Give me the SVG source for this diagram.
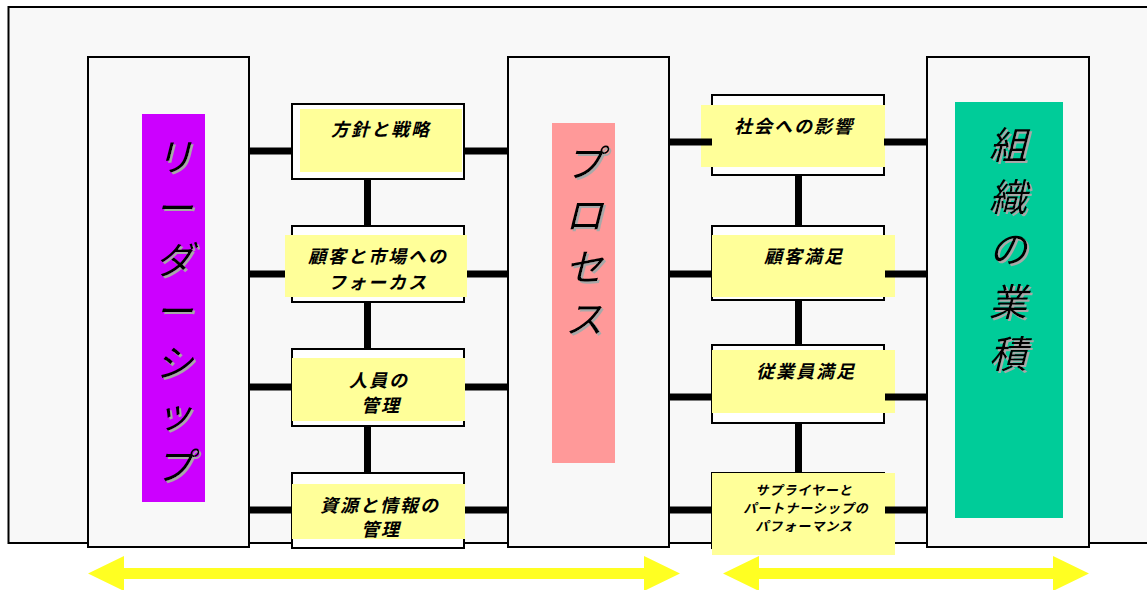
<svg xmlns="http://www.w3.org/2000/svg" width="1147" height="590" viewBox="0 0 1147 590">
<defs>
<style>
.col{fill:#f8f8f8;stroke:#000;stroke-width:2}
.ob{fill:#fff;stroke:#000;stroke-width:2}
.yl{fill:#ffff99}
.lbl{font-family:"Noto Sans CJK JP","Noto Sans",sans-serif;font-style:italic;font-weight:bold;font-size:18px;letter-spacing:2px;fill:#000;text-anchor:middle;dominant-baseline:central}
.sm{font-size:13px;letter-spacing:1px}
.big{font-family:"Noto Sans CJK JP","Noto Sans",sans-serif;font-style:italic;font-size:38px;fill:#000;text-anchor:middle;dominant-baseline:central;filter:url(#sh)}
.cn{stroke:#000;stroke-width:7;fill:none}
.arr{fill:#ffff22}
</style>
<filter id="sh" x="-20%" y="-20%" width="140%" height="140%">
<feDropShadow dx="2" dy="2" stdDeviation="0.4" flood-color="#a8a8a8"/>
</filter>
</defs>
<rect x="0" y="0" width="1147" height="590" fill="#fff"/>
<rect x="8.5" y="7" width="1150" height="536" fill="#f8f8f8" stroke="#000" stroke-width="2"/>

<g id="connectors">
<line class="cn" x1="249" y1="151" x2="300" y2="151"/>
<line class="cn" x1="462" y1="151" x2="508" y2="151"/>
<line class="cn" x1="249" y1="274" x2="286" y2="274"/>
<line class="cn" x1="466" y1="274" x2="508" y2="274"/>
<line class="cn" x1="249" y1="387" x2="292" y2="387"/>
<line class="cn" x1="464" y1="387" x2="508" y2="387"/>
<line class="cn" x1="249" y1="510" x2="292" y2="510"/>
<line class="cn" x1="464" y1="510" x2="508" y2="510"/>
<line class="cn" x1="367.5" y1="179" x2="367.5" y2="226"/>
<line class="cn" x1="367.5" y1="302" x2="367.5" y2="349"/>
<line class="cn" x1="367.5" y1="426" x2="367.5" y2="473"/>
<line class="cn" x1="798.5" y1="175" x2="798.5" y2="226"/>
<line class="cn" x1="798.5" y1="300" x2="798.5" y2="345"/>
<line class="cn" x1="798.5" y1="423" x2="798.5" y2="473"/>
</g>

<g id="leadership">
<rect class="col" x="88" y="57" width="161" height="490"/>
<rect x="142" y="114" width="63" height="388" fill="#cc00ff"/>
<text class="big"><tspan x="174" y="153.5">リ</tspan><tspan x="174" y="205">ー</tspan><tspan x="174" y="256.5">ダ</tspan><tspan x="174" y="308">ー</tspan><tspan x="174" y="359.5">シ</tspan><tspan x="174" y="411">ッ</tspan><tspan x="174" y="462.5">プ</tspan></text>
</g>

<g id="process">
<rect class="col" x="508" y="57" width="161" height="490"/>
<rect x="552" y="123" width="63" height="340" fill="#ff9999"/>
<text class="big"><tspan x="584" y="160">プ</tspan><tspan x="584" y="212">ロ</tspan><tspan x="584" y="264">セ</tspan><tspan x="584" y="316">ス</tspan></text>
</g>

<g id="results">
<rect class="col" x="927" y="57" width="162" height="490"/>
<rect x="955" y="102" width="108" height="416" fill="#00cc99"/>
<text class="big"><tspan x="1008" y="142">組</tspan><tspan x="1008" y="194">織</tspan><tspan x="1008" y="246">の</tspan><tspan x="1008" y="299">業</tspan><tspan x="1008" y="351">積</tspan></text>
</g>

<g id="policy">
<rect class="ob" x="292" y="104" width="172" height="75"/>
<rect class="yl" x="300" y="109" width="162" height="63"/>
<text class="lbl" x="381" y="128">方針と戦略</text>
</g>

<g id="customer-focus">
<rect class="ob" x="292" y="226" width="172" height="76"/>
<rect class="yl" x="285" y="235" width="182" height="62"/>
<text class="lbl"><tspan x="378" y="255">顧客と市場への</tspan><tspan x="378" y="280.5">フォーカス</tspan></text>
</g>

<g id="people">
<rect class="ob" x="292" y="349" width="172" height="77"/>
<rect class="yl" x="292" y="358" width="173" height="63"/>
<text class="lbl"><tspan x="379" y="378.5">人員の</tspan><tspan x="381" y="404">管理</tspan></text>
</g>

<g id="resources">
<rect class="ob" x="292" y="473" width="172" height="75"/>
<rect class="yl" x="292" y="484" width="173" height="55"/>
<text class="lbl"><tspan x="380" y="503.5">資源と情報の</tspan><tspan x="381" y="527.5">管理</tspan></text>
</g>

<g id="society">
<rect class="ob" x="712" y="95" width="172" height="80"/>
<rect class="yl" x="701" y="105" width="184" height="62"/>
<text class="lbl" x="794" y="125">社会への影響</text>
</g>

<g id="customer-satisfaction">
<rect class="ob" x="712" y="226" width="172" height="74"/>
<rect class="yl" x="712" y="235" width="183" height="62"/>
<text class="lbl" x="804" y="255">顧客満足</text>
</g>

<g id="employee-satisfaction">
<rect class="ob" x="712" y="345" width="172" height="78"/>
<rect class="yl" x="712" y="350" width="183" height="63"/>
<text class="lbl" x="806" y="370">従業員満足</text>
</g>

<g id="supplier">
<rect class="ob" x="712" y="473" width="172" height="75"/>
<rect class="yl" x="712" y="473" width="183" height="82"/>
<text class="lbl sm"><tspan x="804" y="488.5">サプライヤーと</tspan><tspan x="806" y="506.5">パートナーシップの</tspan><tspan x="804" y="524.5">パフォーマンス</tspan></text>
</g>

<g id="connectors-front">
<line class="cn" x1="669" y1="142" x2="712" y2="142"/>
<line class="cn" x1="884" y1="142" x2="927" y2="142"/>
<line class="cn" x1="669" y1="274" x2="712" y2="274"/>
<line class="cn" x1="885" y1="274" x2="927" y2="274"/>
<line class="cn" x1="669" y1="397" x2="712" y2="397"/>
<line class="cn" x1="885" y1="397" x2="927" y2="397"/>
<line class="cn" x1="669" y1="510" x2="712" y2="510"/>
<line class="cn" x1="885" y1="510" x2="927" y2="510"/>
</g>

<g id="arrow-left">
<polygon class="arr" points="88,573.5 124,556 124,568 644,568 644,556 680,573.5 644,591 644,579 124,579 124,591"/>
</g>
<g id="arrow-right">
<polygon class="arr" points="723,573.5 759,556 759,568 1053,568 1053,556 1089,573.5 1053,591 1053,579 759,579 759,591"/>
</g>
</svg>
